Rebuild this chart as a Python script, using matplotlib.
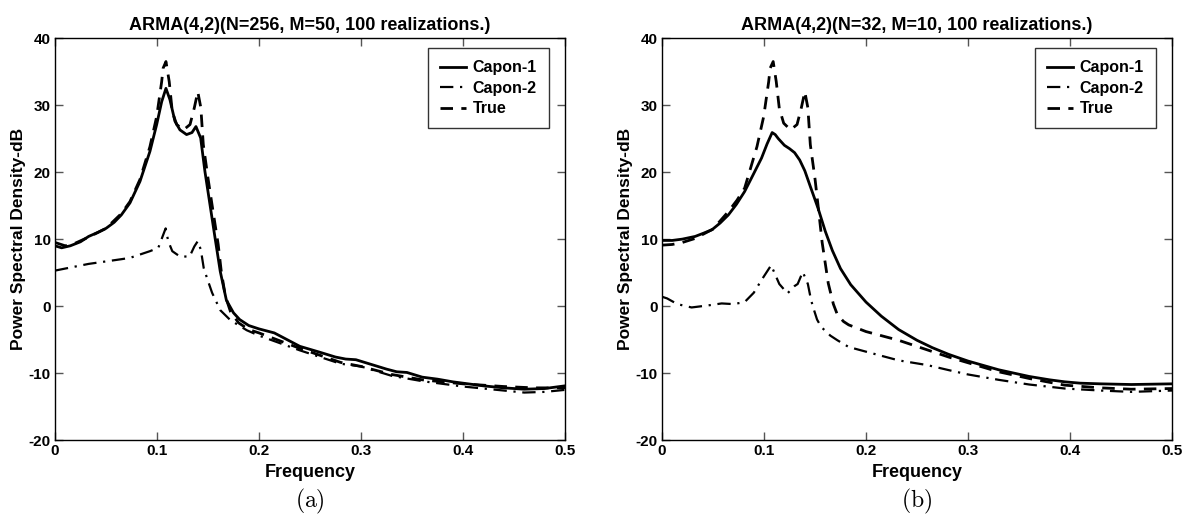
import matplotlib
matplotlib.use("Agg")
import matplotlib.pyplot as plt

plt.rcParams["font.family"] = ["Liberation Sans", "DejaVu Sans"]
plt.rcParams["mathtext.fontset"] = "cm"

# =========================
# Data
# =========================

# (a) N=256, M=50
freq_a_capon1 = [0, 0.0065, 0.015, 0.025, 0.033, 0.042, 0.05, 0.058, 0.065, 0.0735,
                 0.0833, 0.0931, 0.0997, 0.1046, 0.1088, 0.1127, 0.1176, 0.1225, 0.129, 0.1343,
                 0.1382, 0.1428, 0.147, 0.152, 0.157, 0.162, 0.168, 0.175, 0.181, 0.19,
                 0.2, 0.21, 0.215, 0.225, 0.24, 0.26, 0.275, 0.285, 0.295, 0.31,
                 0.325, 0.335, 0.345, 0.36, 0.375, 0.39, 0.4, 0.42, 0.44, 0.46,
                 0.48, 0.5]
psd_a_capon1 = [9.0, 8.7, 9.0, 9.6, 10.4, 11.0, 11.6, 12.5, 13.6, 15.4,
                18.6, 23.1, 27.1, 30.5, 32.5, 30.8, 27.6, 26.3, 25.6, 25.9,
                26.8, 25.1, 20.1, 15.1, 10.1, 5.2, 0.9, -1.0, -2.0, -2.9,
                -3.4, -3.8, -4.0, -4.8, -6.0, -6.9, -7.6, -7.9, -8.0, -8.7,
                -9.4, -9.8, -9.9, -10.6, -10.9, -11.3, -11.5, -11.9, -12.2, -12.4,
                -12.3, -11.9]

freq_a_capon2 = [0, 0.033, 0.065, 0.0735, 0.0931, 0.1013, 0.106, 0.1085, 0.111, 0.115,
                 0.1225, 0.132, 0.1366, 0.14, 0.143, 0.1458, 0.149, 0.154, 0.162, 0.172,
                 0.188, 0.2, 0.24, 0.28, 0.3, 0.33, 0.36, 0.4, 0.44, 0.46,
                 0.48, 0.5]
psd_a_capon2 = [5.3, 6.3, 7.0, 7.2, 8.2, 8.7, 10.6, 11.6, 9.7, 8.2,
                7.4, 7.4, 8.9, 9.7, 8.4, 5.7, 4.2, 2.0, -0.6, -2.1,
                -3.6, -4.4, -6.6, -8.6, -9.0, -10.4, -11.2, -12.0, -12.6, -12.9,
                -12.8, -12.5]

freq_a_true = [0, 0.01, 0.02, 0.033, 0.05, 0.065, 0.0735, 0.0833, 0.0931, 0.0997,
               0.1046, 0.106, 0.1088, 0.112, 0.115, 0.1193, 0.126, 0.1324, 0.1366, 0.14,
               0.143, 0.1454, 0.150, 0.155, 0.160, 0.163, 0.167, 0.172, 0.18, 0.19,
               0.2, 0.24, 0.28, 0.3, 0.33, 0.36, 0.4, 0.44, 0.47, 0.5]
psd_a_true = [9.5, 9.0, 9.4, 10.3, 11.6, 13.8, 15.6, 18.9, 23.8, 28.3,
              33.5, 35.5, 36.5, 33.5, 29.0, 27.1, 26.3, 27.1, 29.6, 32.0,
              29.6, 24.1, 19.1, 14.1, 9.2, 5.2, 1.5, -0.8, -2.5, -3.5,
              -4.0, -6.3, -8.4, -9.0, -10.2, -11.0, -11.6, -12.0, -12.2, -12.2]

# (b) N=32, M=10
freq_b_capon1 = [0, 0.01, 0.02, 0.0325, 0.041, 0.049, 0.057, 0.065, 0.073, 0.081,
                 0.089, 0.0976, 0.103, 0.108, 0.111, 0.114, 0.12, 0.125, 0.13, 0.135,
                 0.14, 0.146, 0.153, 0.16, 0.167, 0.175, 0.185, 0.2, 0.215, 0.232,
                 0.25, 0.265, 0.281, 0.3, 0.33, 0.36, 0.38, 0.395, 0.41, 0.43,
                 0.46, 0.5]
psd_b_capon1 = [9.8, 9.8, 10.0, 10.4, 10.9, 11.4, 12.4, 13.6, 15.2, 17.1,
                19.5, 22.1, 24.2, 25.9, 25.6, 25.0, 24.0, 23.5, 22.9, 21.8,
                20.2, 17.6, 14.6, 11.2, 8.3, 5.6, 3.2, 0.6, -1.5, -3.5,
                -5.1, -6.2, -7.2, -8.2, -9.5, -10.5, -11.0, -11.3, -11.5, -11.6,
                -11.7, -11.6]

freq_b_capon2 = [0, 0.005, 0.015, 0.029, 0.045, 0.0585, 0.07, 0.081, 0.09, 0.0976,
                 0.107, 0.115, 0.123, 0.13, 0.133, 0.138, 0.143, 0.146, 0.148, 0.152,
                 0.156, 0.165, 0.172, 0.183, 0.2, 0.232, 0.26, 0.281, 0.3, 0.33,
                 0.36, 0.395, 0.43, 0.46, 0.5]
psd_b_capon2 = [1.4, 1.15, 0.3, -0.2, 0.1, 0.4, 0.3, 0.6, 2.0, 3.9,
                6.1, 3.3, 1.9, 3.0, 3.3, 5.1, 3.3, 1.0, -0.1, -2.0,
                -3.1, -4.4, -5.1, -6.1, -6.8, -8.1, -8.8, -9.55, -10.2, -11.0,
                -11.7, -12.3, -12.6, -12.8, -12.6]

freq_b_true = [0, 0.01, 0.02, 0.0325, 0.05, 0.065, 0.0735, 0.081, 0.0931, 0.0997,
               0.1046, 0.106, 0.109, 0.112, 0.115, 0.1193, 0.126, 0.1324, 0.1366, 0.14,
               0.143, 0.1454, 0.15, 0.153, 0.157, 0.163, 0.168, 0.172, 0.178, 0.183,
               0.2, 0.232, 0.281, 0.33, 0.36, 0.395, 0.43, 0.46, 0.5]
psd_b_true = [9.1, 9.2, 9.5, 10.1, 11.5, 14.1, 15.8, 17.6, 23.8, 28.3,
              33.5, 35.5, 36.5, 33.5, 29.5, 27.3, 26.3, 27.1, 29.6, 32.0,
              29.6, 24.1, 19.0, 15.0, 9.5, 3.4, 0.3, -1.3, -2.3, -2.8,
              -3.8, -5.1, -7.6, -9.8, -10.8, -11.8, -12.2, -12.4, -12.3]

titles = ["ARMA(4,2)(N=256, M=50, 100 realizations.)",
          "ARMA(4,2)(N=32, M=10, 100 realizations.)"]
captions = ["(a)", "(b)"]
x_ticks = [0, 0.1, 0.2, 0.3, 0.4, 0.5]
x_tick_labels = ["0", "0.1", "0.2", "0.3", "0.4", "0.5"]
y_ticks = [-20, -10, 0, 10, 20, 30, 40]
y_tick_labels = ["-20", "-10", "0", "10", "20", "30", "40"]


# =========================
# Plot one panel
# =========================

def plot_panel(ax, capon1, capon2, true, title, caption):
    ax.plot(capon1[0], capon1[1], color="black", linewidth=2.0, label="Capon-1")
    ax.plot(capon2[0], capon2[1], color="black", linewidth=1.6,
            dashes=(6, 3, 1, 3), label="Capon-2")
    ax.plot(true[0], true[1], color="black", linewidth=2.0,
            dashes=(4.5, 3), label="True")

    ax.set_xlim(0, 0.5)
    ax.set_ylim(-20, 40)
    ax.set_xticks(x_ticks)
    ax.set_xticklabels(x_tick_labels, fontweight="bold", fontsize=11)
    ax.set_yticks(y_ticks)
    ax.set_yticklabels(y_tick_labels, fontweight="bold", fontsize=11)
    ax.tick_params(direction="in", length=6, width=1, top=True, right=True,
                   pad=3, color="#555555")

    for spine in ax.spines.values():
        spine.set_linewidth(1.0)

    ax.set_title(title, fontweight="bold", fontsize=13, pad=6)
    ax.set_xlabel("Frequency", fontweight="bold", fontsize=13, labelpad=4)
    ax.set_ylabel("Power Spectral Density-dB", fontweight="bold", fontsize=12.5,
                  labelpad=2)

    leg = ax.legend(loc="upper right", bbox_to_anchor=(0.9686, 0.975),
                    borderaxespad=0, frameon=True, fancybox=False,
                    edgecolor="black", handlelength=1.6, labelspacing=0.35,
                    handletextpad=0.45, borderpad=0.75,
                    prop={"weight": "bold", "size": 11.5})
    leg.get_frame().set_linewidth(1.0)

    ax.text(0.5, -0.152, "$\\mathrm{" + caption + "}$", transform=ax.transAxes,
            ha="center", va="center", fontsize=17)


fig = plt.figure(figsize=(11.9, 5.29), dpi=100)

ax_a = fig.add_axes([0.0462, 0.168, 0.4286, 0.760])
ax_b = fig.add_axes([0.5563, 0.168, 0.4286, 0.760])

plot_panel(ax_a,
           (freq_a_capon1, psd_a_capon1),
           (freq_a_capon2, psd_a_capon2),
           (freq_a_true, psd_a_true),
           titles[0], captions[0])

plot_panel(ax_b,
           (freq_b_capon1, psd_b_capon1),
           (freq_b_capon2, psd_b_capon2),
           (freq_b_true, psd_b_true),
           titles[1], captions[1])

fig.savefig("out.png", dpi=100)
